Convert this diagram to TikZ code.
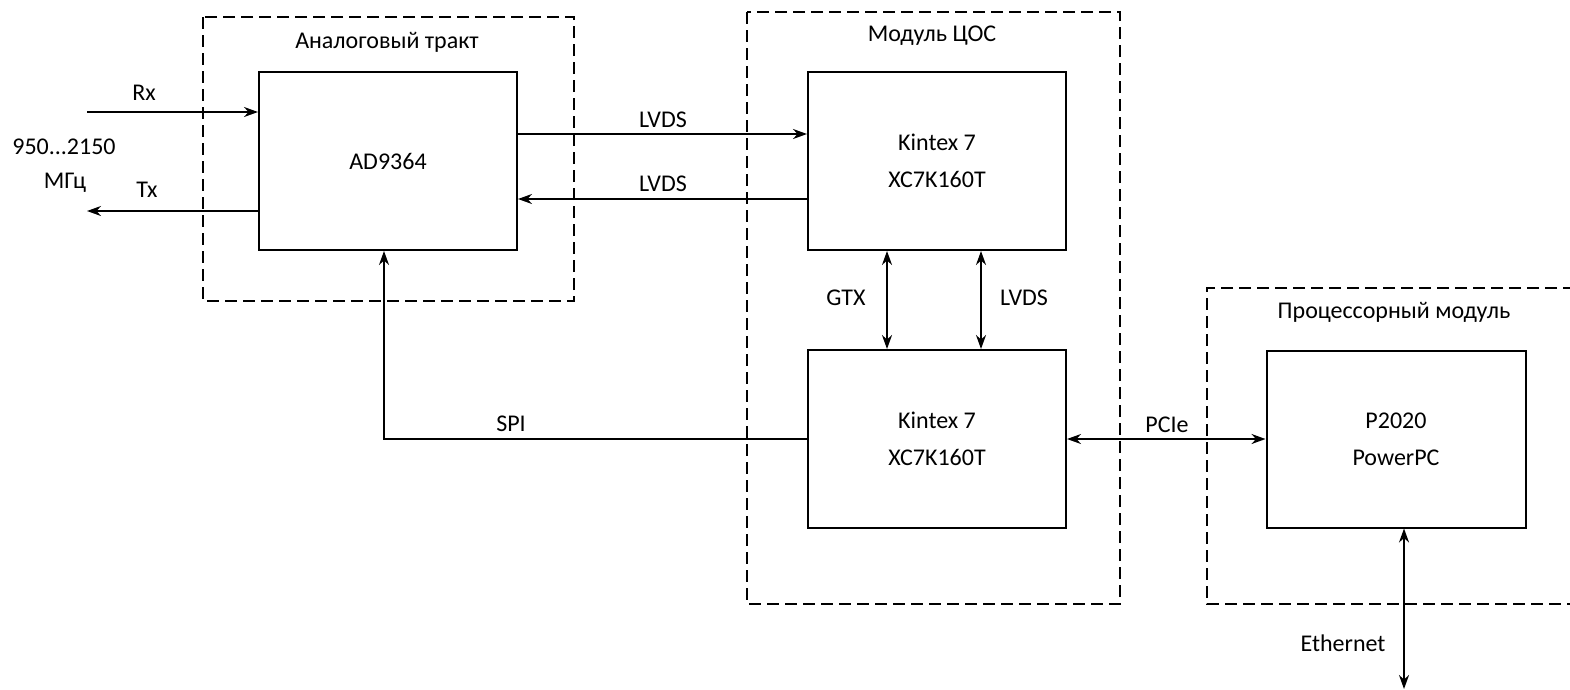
\documentclass[tikz,border=0pt]{standalone}
\usepackage{fontspec}
\setmainfont{Carlito}
\usetikzlibrary{arrows.meta}
\begin{document}
\begin{tikzpicture}[x=1pt,y=-1pt,
  every node/.style={font=\fontsize{24}{37}\selectfont, inner sep=0pt},
  blk/.style={draw, line width=2pt, rectangle},
  grp/.style={draw, line width=2pt, dash pattern=on 12pt off 6pt},
  ln/.style={line width=2pt},
  arr/.style={ln, -{Stealth[length=14pt,width=10pt]}},
  darr/.style={ln, {Stealth[length=14pt,width=10pt]}-{Stealth[length=14pt,width=10pt]}},
  lbl/.style={}]
\useasboundingbox (0,0) rectangle (1570,689);
% group frames
\draw[grp] (203,17) rectangle (574,301);
\draw[grp] (747,12) rectangle (1120,604);
\draw[grp] (1575,288) -- (1207,288) -- (1207,604) -- (1575,604);
\node[lbl] (tA) at (387,42) {Аналоговый тракт};
\node[lbl] (tD) at (932,36) {Модуль ЦОС};
\node[lbl] (tP) at (1394,312) {Процессорный модуль};
% blocks
\node[blk, minimum width=258pt, minimum height=178pt] (ad) at (388,161) {AD9364};
\node[blk, minimum width=258pt, minimum height=178pt, align=center] (k1) at (937,161) {Kintex 7\\XC7K160T};
\node[blk, minimum width=258pt, minimum height=178pt, align=center] (k2) at (937,439) {Kintex 7\\XC7K160T};
\node[blk, minimum width=259pt, minimum height=177pt, align=center] (pp) at (1396,439) {P2020\\PowerPC};
% free ends
\coordinate (rxin) at (87,112);
\coordinate (txout) at (87,211);
\coordinate (spic) at (384,439);
\coordinate (eth) at (1404,689);
% RF
\draw[arr] (rxin) -- (ad.west |- rxin);
\draw[arr] (ad.west |- txout) -- (txout);
\node[lbl] (lrx) at (144,93) {Rx};
\node[lbl] (ltx) at (147,190) {Tx};
\node[lbl] (lf1) at (64,147) {950...2150};
\node[lbl] (lf2) at (65,183) {МГц};
% LVDS
\draw[arr] (ad.east |- 0,134) -- (k1.west |- 0,134);
\draw[arr] (k1.west |- 0,199) -- (ad.east |- 0,199);
\node[lbl] (l1) at (663,120) {LVDS};
\node[lbl] (l2) at (663,184) {LVDS};
% vertical
\draw[darr] (k1.south -| 887,0) -- (k2.north -| 887,0);
\draw[darr] (k1.south -| 981,0) -- (k2.north -| 981,0);
\node[lbl] (lg) at (846,298) {GTX};
\node[lbl] (lv) at (1024,298) {LVDS};
% SPI
\draw[arr] (k2.west |- spic) -- (spic) -- (ad.south -| spic);
\node[lbl] (ls) at (511,424) {SPI};
% PCIe
\draw[darr] (k2.east) -- (pp.west);
\node[lbl] (lp) at (1167,425) {PCIe};
% Ethernet
\draw[darr] (pp.south -| eth) -- (eth);
\node[lbl] (le) at (1343,643) {Ethernet};
\end{tikzpicture}
\end{document}
